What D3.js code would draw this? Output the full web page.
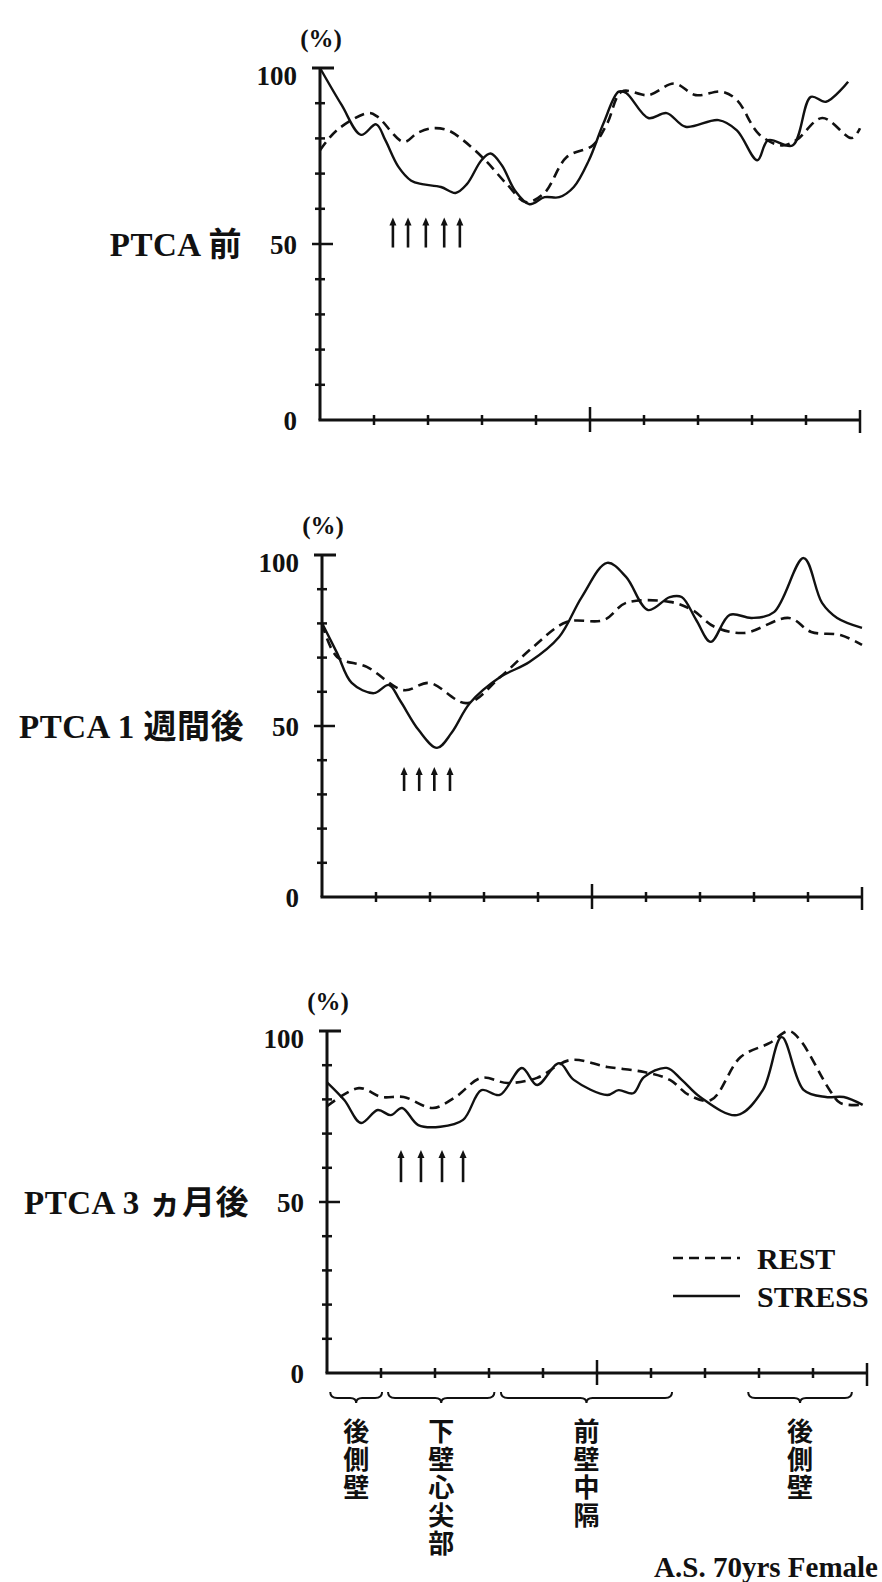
<!DOCTYPE html>
<html>
<head>
<meta charset="utf-8">
<script src="https://cdn.jsdelivr.net/npm/d3@7"></script>
<style>
  html, body { margin: 0; padding: 0; background: #fff; }
  svg { display: block; }
  .serif { font-family: "Liberation Serif", "Noto Sans CJK JP", serif; font-weight: bold; fill: #111; }
  .cjk { font-family: "Noto Sans CJK JP", sans-serif; font-weight: 700; fill: #111; }
</style>
</head>
<body>
<script>
// Regional count profile (%), x in segment units 0..10 along the circumference.
const preRest = [[0,76.6],[0.31,82.3],[0.9,87.2],[1.07,86.1],[1.55,79],[1.8,81.5],[2.09,82.9],[2.37,82.3],[2.65,79.5],[3.06,73.8],[3.46,67],[3.81,61.9],[4.15,64.4],[4.57,74.7],[5.05,78],[5.32,84.3],[5.59,93.3],[6.08,92.3],[6.56,95.6],[6.96,92.3],[7.44,93.3],[7.72,90.9],[8.13,81.2],[8.55,78],[8.82,79.5],[9.3,85.8],[9.85,80.1],[10.0,82.9]];
const preStress = [[0,100],[0.4,89.5],[0.76,81],[1.04,84],[1.21,79.5],[1.45,72],[1.69,68],[1.89,67],[2.24,66.2],[2.51,64.5],[2.72,67],[2.99,73.8],[3.16,75.7],[3.37,72.3],[3.61,65.2],[3.88,61.3],[4.16,63.3],[4.43,63.3],[4.7,66.2],[4.98,73.8],[5.25,84.3],[5.53,93.3],[5.67,92.9],[6.08,85.8],[6.42,87.2],[6.77,83.3],[7.38,85.2],[7.72,82.3],[8.1,73.8],[8.3,79.5],[8.75,78],[9.09,91.8],[9.37,90.4],[9.78,96.1]];

const w1Rest = [[0,80],[0.28,70.2],[0.83,67.3],[1.51,60.5],[1.99,62.6],[2.68,56.7],[3.3,64.3],[3.91,73.1],[4.53,80.4],[5.22,81],[5.63,86],[6.44,86.3],[6.86,83.9],[7.27,79],[7.82,77.2],[8.65,81.6],[9.06,77.5],[9.6,76.6],[10.0,73.7]];
const w1Stress = [[0,80.1],[0.28,71.3],[0.55,62.6],[0.96,59.6],[1.24,62],[1.44,57.6],[1.79,48.8],[2.13,43.6],[2.4,48],[2.74,56.7],[3.3,64.3],[3.84,68.7],[4.39,76],[4.81,87.7],[5.28,97.7],[5.63,93.6],[6.04,83.9],[6.44,87.7],[6.66,87.7],[6.93,81],[7.2,74.6],[7.55,82.5],[7.96,81.6],[8.37,83.3],[8.92,99.1],[9.26,86],[9.54,81.6],[10.0,78.7]];

const m3Rest = [[0,78],[0.59,83.3],[1.01,80.7],[1.42,80.7],[1.96,77.5],[2.38,80.7],[2.86,86.3],[3.34,84.8],[3.89,86.3],[4.5,91.5],[5.19,89.5],[5.87,88],[6.35,85.7],[6.7,81.3],[7.11,79.8],[7.66,92.4],[8.2,96.5],[8.55,100],[8.76,97.4],[9.31,82.7],[9.51,78.9],[9.92,78.4]];
const m3Stress = [[0,85],[0.32,79.8],[0.63,73.1],[0.94,76.9],[1.18,75.4],[1.39,77.5],[1.69,72.5],[2.1,72],[2.52,74],[2.86,82.7],[3.2,81.3],[3.61,89.2],[3.89,84.2],[4.3,90.6],[4.57,85.7],[5.19,81.3],[5.4,82.7],[5.67,81.8],[5.87,86.5],[6.29,89.2],[6.57,85.7],[6.91,80.7],[7.59,75.4],[8.07,82.7],[8.42,98.2],[8.83,82.7],[9.24,80.7],[9.57,80.7],[9.92,78.4]];

// Arrow markers for the hypoperfused segment: x positions and value span
const preArrows = [1.35, 1.63, 1.96, 2.30, 2.59];
const preArrowSpan = [49, 57.5];
const w1Arrows = [1.52, 1.8, 2.08, 2.37];
const w1ArrowSpan = [31, 38];
const m3Arrows = [1.37, 1.74, 2.13, 2.52];
const m3ArrowSpan = [55.8, 65.2];

const panelLabels = ["PTCA 前", "PTCA 1 週間後", "PTCA 3 ヵ月後"];
const yTickLabels = [0, 50, 100];
const yMinorTicks = [10, 20, 30, 40, 60, 70, 80, 90];
const xTicks = [1, 2, 3, 4, 5, 6, 7, 8, 9, 10];
const xMajorTicks = [5, 10];

// Wall regions under the last panel (from, to in segment units)
const regions = [
  { label: "後側壁", from: 0.06, to: 1.02 },
  { label: "下壁心尖部", from: 1.13, to: 3.1 },
  { label: "前壁中隔", from: 3.22, to: 6.39 },
  { label: "後側壁", from: 7.8, to: 9.72 }
];
const seriesNames = ["REST", "STRESS"];
const caption = "A.S. 70yrs Female";

const panels = [
  { rest: preRest, stress: preStress, arrows: preArrows, span: preArrowSpan, label: panelLabels[0], x0: 320, top: 68, bottom: 420 },
  { rest: w1Rest, stress: w1Stress, arrows: w1Arrows, span: w1ArrowSpan, label: panelLabels[1], x0: 322, top: 555, bottom: 897 },
  { rest: m3Rest, stress: m3Stress, arrows: m3Arrows, span: m3ArrowSpan, label: panelLabels[2], x0: 327, top: 1031, bottom: 1373 }
];

const W = 882, H = 1582, AX_LEN = 540;
const svg = d3.select("body").append("svg").attr("width", W).attr("height", H);
const ink = "#111";

panels.forEach((p) => {
  const x = d3.scaleLinear().domain([0, 10]).range([p.x0, p.x0 + AX_LEN]);
  const y = d3.scaleLinear().domain([0, 100]).range([p.bottom, p.top]);
  const g = svg.append("g");

  // axis lines
  g.append("line").attr("x1", x(0)).attr("x2", x(0)).attr("y1", y(0)).attr("y2", y(100))
    .attr("stroke", ink).attr("stroke-width", 3);
  g.append("line").attr("x1", x(0) - 1.5).attr("x2", x(10)).attr("y1", y(0)).attr("y2", y(0))
    .attr("stroke", ink).attr("stroke-width", 3);

  // y ticks
  g.selectAll(".ym").data(yMinorTicks).join("line")
    .attr("x1", x(0) - 5).attr("x2", x(0) + 5).attr("y1", d => y(d)).attr("y2", d => y(d))
    .attr("stroke", ink).attr("stroke-width", 2.5);
  g.append("line").attr("x1", x(0) - 8).attr("x2", x(0) + 13).attr("y1", y(50)).attr("y2", y(50))
    .attr("stroke", ink).attr("stroke-width", 2.5);
  g.append("line").attr("x1", x(0) - 8).attr("x2", x(0) + 14).attr("y1", y(100)).attr("y2", y(100))
    .attr("stroke", ink).attr("stroke-width", 3);

  // y tick labels via d3 axis (labels only)
  const yAxis = d3.axisLeft(y).tickValues(yTickLabels).tickSize(0).tickPadding(23).tickFormat(d3.format("d"));
  const ya = g.append("g").attr("transform", `translate(${x(0)},0)`).call(yAxis);
  ya.select(".domain").remove();
  ya.selectAll("text").attr("class", "serif").style("font-size", "27px")
    .attr("dy", d => d === 100 ? "0.6em" : "0.34em");

  // x ticks
  g.selectAll(".xt").data(xTicks).join("line")
    .attr("x1", d => x(d)).attr("x2", d => x(d))
    .attr("y1", d => xMajorTicks.includes(d) ? y(0) - (d === 10 ? 10 : 13) : y(0) - 5)
    .attr("y2", d => xMajorTicks.includes(d) ? y(0) + (d === 10 ? 13 : 12) : y(0) + 5)
    .attr("stroke", ink).attr("stroke-width", 2.5);

  // unit
  g.append("text").attr("class", "serif").attr("x", x(0) + 1).attr("y", y(100) - 30)
    .attr("text-anchor", "middle").attr("dy", "0.35em").style("font-size", "25px").text("(%)");

  // panel label
  g.append("text").attr("class", "serif").attr("x", x(0) - 78).attr("y", y(50))
    .attr("text-anchor", "end").attr("dy", "0.35em").style("font-size", "33px")
    .style("letter-spacing", "0.5px").text(p.label);

  const line = d3.line().x(d => x(d[0])).y(d => y(d[1])).curve(d3.curveCatmullRom.alpha(0.5));
  g.append("path").datum(p.rest).attr("d", line).attr("fill", "none")
    .attr("stroke", ink).attr("stroke-width", 2.6).attr("stroke-dasharray", "10,6");
  g.append("path").datum(p.stress).attr("d", line).attr("fill", "none")
    .attr("stroke", ink).attr("stroke-width", 2.4);

  // arrows
  const ar = g.selectAll(".ar").data(p.arrows).join("g");
  ar.append("line").attr("x1", d => x(d)).attr("x2", d => x(d))
    .attr("y1", y(p.span[0])).attr("y2", y(p.span[1]) + 5)
    .attr("stroke", ink).attr("stroke-width", 2.6);
  ar.append("path")
    .attr("d", d => `M${x(d) - 3.5},${y(p.span[1]) + 8} L${x(d)},${y(p.span[1])} L${x(d) + 3.5},${y(p.span[1]) + 8} Z`)
    .attr("fill", ink);

  p.xScale = x; p.yScale = y;
});

// Region braces and vertical labels under the last panel
const last = panels[2];
const bx = last.xScale;
const braceY = last.bottom + 25;
regions.forEach(r => {
  const x1 = bx(r.from), x2 = bx(r.to), m = (x1 + x2) / 2;
  const d = `M${x1},${braceY - 6} Q${x1},${braceY} ${x1 + 7},${braceY} L${m - 6},${braceY} Q${m},${braceY} ${m},${braceY + 5} Q${m},${braceY} ${m + 6},${braceY} L${x2 - 7},${braceY} Q${x2},${braceY} ${x2},${braceY - 6}`;
  svg.append("path").attr("d", d).attr("fill", "none").attr("stroke", ink).attr("stroke-width", 2);
  svg.append("text").attr("class", "cjk")
    .attr("x", m).attr("y", braceY + 20)
    .style("writing-mode", "vertical-rl").style("text-orientation", "upright")
    .style("font-size", "26px").style("letter-spacing", "2px")
    .text(r.label);
});

// Legend
const lg = svg.append("g");
const legendRows = [
  { name: seriesNames[0], dash: "10,6", y: 1258 },
  { name: seriesNames[1], dash: null, y: 1296 }
];
legendRows.forEach(r => {
  lg.append("line").attr("x1", 673).attr("x2", 740).attr("y1", r.y).attr("y2", r.y)
    .attr("stroke", ink).attr("stroke-width", 2.6).attr("stroke-dasharray", r.dash);
  lg.append("text").attr("class", "serif").attr("x", 757).attr("y", r.y).attr("dy", "0.35em")
    .style("font-size", "30px").text(r.name);
});

svg.append("text").attr("class", "serif").attr("x", 878).attr("y", 1567).attr("dy", "0.35em")
  .attr("text-anchor", "end").style("font-size", "29px").text(caption);
</script>
</body>
</html>
